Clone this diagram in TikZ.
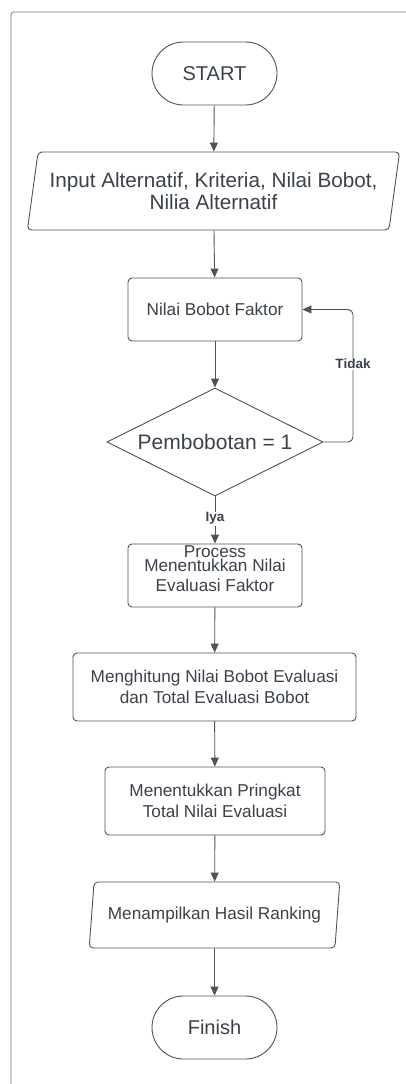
\documentclass[tikz,border=0pt]{standalone}
\usepackage{fontspec}
\setmainfont{Liberation Sans}
\usetikzlibrary{shapes.geometric,arrows.meta}
\definecolor{ink}{HTML}{3A414A}
\definecolor{edge}{HTML}{4F5257}
\definecolor{framec}{HTML}{7A7A7A}
\tikzset{
  base/.style={draw=edge, line width=0.9pt, text=ink, align=center, inner sep=0pt},
  terminal/.style={base, rectangle, rounded corners=31.5pt, minimum width=125pt, minimum height=63pt, font=\fontsize{20}{23}\selectfont},
  procbox/.style={base, rectangle, rounded corners=4pt, font=\fontsize{17.2}{20.5}\selectfont},
  iobox/.style={base, trapezium, trapezium left angle=75, trapezium right angle=105, trapezium stretches=true, rounded corners=4pt},
  decision/.style={base, diamond, aspect=2, minimum width=216pt, minimum height=108pt, font=\fontsize{21}{24}\selectfont},
  flow/.style={draw=edge, line width=0.9pt, -{Triangle[length=9pt,width=8pt]}},
  tag/.style={fill=white, text=ink, inner sep=1pt, font=\bfseries\fontsize{13.5}{15}\selectfont},
}
\begin{document}
\begin{tikzpicture}[x=1pt, y=-1pt]
  \useasboundingbox (0,0) rectangle (406,1084);
  % page frame
  \draw[framec, line width=0.8pt, rounded corners=3pt] (11,1095) -- (11,12) -- (420,12);

  \node[terminal] (start) at (214.5,73.5) {START};
  \node[iobox, minimum width=373pt, minimum height=78pt, font=\fontsize{20.7}{22}\selectfont] (input) at (213.5,191) {Input Alternatif, Kriteria, Nilai Bobot,\\Nilia Alternatif};
  \node[procbox, minimum width=174pt, minimum height=63pt] (bobot) at (215,309.5) {Nilai Bobot Faktor};
  \node[decision] (cek) at (215,442) {Pembobotan = 1};
  \node[procbox, minimum width=174pt, minimum height=63pt] (evaluasi) at (215,575.5) {Menentukkan Nilai\\Evaluasi Faktor};
  \node[text=ink, inner sep=0pt, font=\fontsize{17.2}{20}\selectfont] (proclabel) at (215,552) {Process};
  \node[procbox, minimum width=283pt, minimum height=68pt] (hitung) at (214.5,687) {Menghitung Nilai Bobot Evaluasi\\dan Total Evaluasi Bobot};
  \node[procbox, minimum width=220pt, minimum height=68pt] (peringkat) at (215,801) {Menentukkan Pringkat\\Total Nilai Evaluasi};
  \node[iobox, minimum width=251pt, minimum height=66pt, font=\fontsize{17.2}{20}\selectfont] (tampil) at (214.5,915) {Menampilkan Hasil Ranking};
  \node[terminal] (finish) at (214.5,1027.5) {Finish};

  \draw[flow] (start) -- (input);
  \draw[flow] (input) -- (bobot);
  \draw[flow] (bobot) -- (cek);
  \draw[flow] (cek.south) -- node[tag, pos=0.47] {Iya} (evaluasi.north);
  \draw[flow, rounded corners=5pt] (cek.east) -- (353,442) -- node[tag, pos=0.59] {Tidak} (353,309.5) -- (bobot.east);
  \draw[flow] (evaluasi) -- (hitung);
  \draw[flow] (hitung) -- (peringkat);
  \draw[flow] (peringkat) -- (tampil);
  \draw[flow] (tampil) -- (finish);
\end{tikzpicture}
\end{document}
